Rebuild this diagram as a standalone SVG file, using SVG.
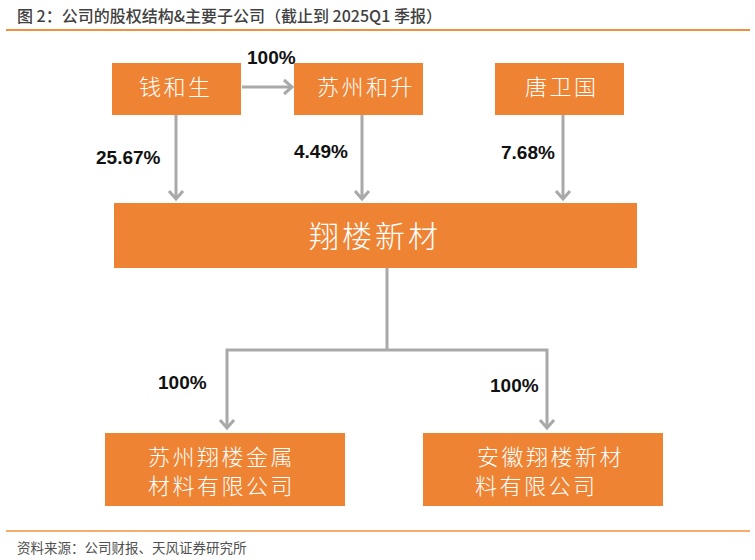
<svg xmlns="http://www.w3.org/2000/svg" width="755" height="560" viewBox="0 0 755 560">
<style>
.box{fill:#EE8433;}
.bt{font-family:"Noto Sans CJK SC","Noto Sans",sans-serif;font-weight:300;fill:#ffffff;font-size:22px;letter-spacing:2.5px;}
.big{font-size:30px;letter-spacing:3px;}
.pct{font-family:"Liberation Sans",Arial,sans-serif;font-weight:bold;font-size:19px;fill:#111111;}
.conn{fill:none;stroke:#A9A9A9;stroke-width:3;}
.head{fill:none;stroke:#A9A9A9;stroke-width:3;stroke-linejoin:miter;}
.title{font-family:"Noto Sans CJK SC","Noto Sans",sans-serif;font-weight:500;font-size:16px;fill:#404040;}
.src{font-family:"Noto Sans CJK SC","Noto Sans",sans-serif;font-size:13.5px;fill:#505050;}
</style>
<rect x="0" y="0" width="755" height="560" fill="#ffffff"/>
<text class="title" x="17" y="22">图 2：公司的股权结构&amp;主要子公司（截止到 2025Q1 季报）</text>
<line x1="6" y1="30" x2="750" y2="30" stroke="#F0913F" stroke-width="2"/>

<g id="connectors">
  <line class="conn" x1="242" y1="87" x2="291" y2="87"/>
  <polyline class="head" points="284,80 292,87 284,94"/>
  <line class="conn" x1="176" y1="115" x2="176" y2="198"/>
  <polyline class="head" points="169,191 176,199 183,191"/>
  <line class="conn" x1="362" y1="115" x2="362" y2="198"/>
  <polyline class="head" points="355,191 362,199 369,191"/>
  <line class="conn" x1="563" y1="115" x2="563" y2="198"/>
  <polyline class="head" points="556,191 563,199 570,191"/>
  <polyline class="conn" points="387,268 387,350"/>
  <polyline class="conn" points="227,428 227,350 547,350 547,428"/>
  <polyline class="head" points="220,420 227,428 234,420"/>
  <polyline class="head" points="540,420 547,428 554,420"/>
</g>

<g id="labels">
  <text class="pct" x="247" y="64">100%</text>
  <text class="pct" x="96" y="164">25.67%</text>
  <text class="pct" x="294" y="158">4.49%</text>
  <text class="pct" x="501" y="159">7.68%</text>
  <text class="pct" x="158" y="389">100%</text>
  <text class="pct" x="490" y="392">100%</text>
</g>

<g id="node-qianhesheng">
  <rect class="box" x="112" y="63" width="129" height="52"/>
  <text class="bt" x="139" y="95">钱和生</text>
</g>
<g id="node-suzhouhesheng">
  <rect class="box" x="294" y="63" width="129" height="52"/>
  <text class="bt" x="317" y="95">苏州和升</text>
</g>
<g id="node-tangweiguo">
  <rect class="box" x="495" y="63" width="129" height="52"/>
  <text class="bt" x="525" y="95">唐卫国</text>
</g>
<g id="node-xianglou">
  <rect class="box" x="114" y="203" width="523" height="65"/>
  <text class="bt big" x="309" y="247">翔楼新材</text>
</g>
<g id="node-suzhou-sub">
  <rect class="box" x="105" y="433" width="240" height="73"/>
  <text class="bt" x="148" y="465">苏州翔楼金属</text>
  <text class="bt" x="148" y="494">材料有限公司</text>
</g>
<g id="node-anhui-sub">
  <rect class="box" x="423" y="433" width="240" height="73"/>
  <text class="bt" x="477" y="465">安徽翔楼新材</text>
  <text class="bt" x="475" y="494">料有限公司</text>
</g>

<line x1="6" y1="531" x2="750" y2="531" stroke="#F0913F" stroke-width="1.5"/>
<text class="src" x="17" y="553">资料来源：公司财报、天风证券研究所</text>
</svg>
